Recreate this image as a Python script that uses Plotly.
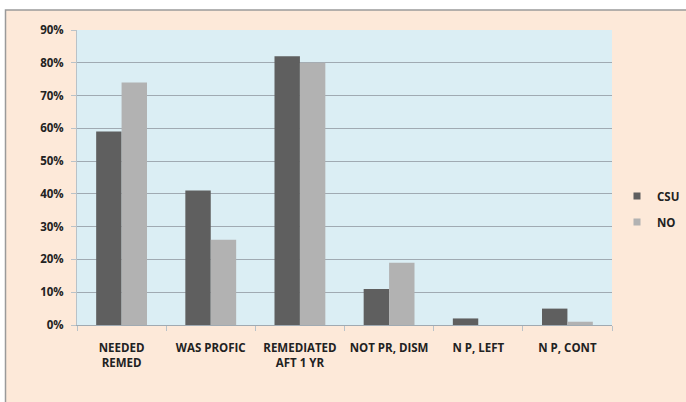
import plotly.graph_objects as go

categories = ["NEEDED<br>REMED", "WAS PROFIC", "REMEDIATED<br>AFT 1 YR",
              "NOT PR, DISM", "N P, LEFT", "N P, CONT"]
csu = [59, 41, 82, 11, 2, 5]
no = [74, 26, 80, 19, 0, 1]
series = [("CSU", csu, "#5f5f5f"), ("NO", no, "#b2b2b2")]
y_ticks = [0, 10, 20, 30, 40, 50, 60, 70, 80, 90]
y_tick_text = [f"{v}%" for v in y_ticks]

W, H = 686, 402
L, R, T, B = 77, 74, 30, 77
pw, ph = W - L - R, H - T - B

def px_x(p):
    return (p - L) / pw

def px_y(p):
    return (H - B - p) / ph

FAMILY = "Open Sans, Lato, sans-serif"
TEXT = dict(family=FAMILY, size=11.5, color="#222222", weight="bold")

fig = go.Figure()
for name, vals, color in series:
    fig.add_trace(go.Bar(name=name, x=categories, y=vals, marker_color=color,
                         marker_line_width=0, showlegend=False))
# small square legend keys, one group each so they can be spaced apart
for name, vals, color in series:
    fig.add_trace(go.Scatter(name=name, x=[None], y=[None], mode="markers",
                             marker=dict(symbol="square", size=7, color=color),
                             legendgroup=name, showlegend=True))

fig.update_layout(
    width=W, height=H,
    margin=dict(l=L, r=R, t=T, b=B, autoexpand=False),
    paper_bgcolor="white",
    plot_bgcolor="rgba(0,0,0,0)",
    barmode="group", bargap=0.43, bargroupgap=0,
    font=TEXT,
    showlegend=True,
    legend=dict(xref="container", yref="container",
                x=617 / W, y=1 - 209 / H, xanchor="left", yanchor="middle",
                bgcolor="rgba(0,0,0,0)", font=TEXT,
                itemwidth=30, tracegroupgap=7),
    shapes=[
        # chart area frame
        dict(type="rect", xref="paper", yref="paper", layer="below",
             x0=px_x(5.5), x1=px_x(700), y0=px_y(420), y1=px_y(10),
             fillcolor="#fde9d9", line=dict(color="#9a9a9a", width=1.5)),
        # plot area background
        dict(type="rect", xref="paper", yref="paper", layer="below",
             x0=0, x1=1, y0=0, y1=1, fillcolor="#dbeef4", line_width=0),
    ],
)

fig.update_yaxes(range=[0, 90], tickvals=y_ticks, ticktext=y_tick_text,
                 showgrid=True, gridcolor="#a0aab2", gridwidth=1.4,
                 zeroline=False, showline=True, linecolor="#b9c2c8",
                 ticks="outside", ticklen=5, tickcolor="#b9c2c8",
                 tickfont=TEXT, ticklabelstandoff=5)
fig.update_xaxes(showline=True, linecolor="#a0aab2", linewidth=1.4,
                 ticks="outside", tickson="boundaries", ticklen=5,
                 tickcolor="#b9c2c8", tickangle=0,
                 tickfont=TEXT, ticklabelstandoff=12)

fig.write_html("out.html")
